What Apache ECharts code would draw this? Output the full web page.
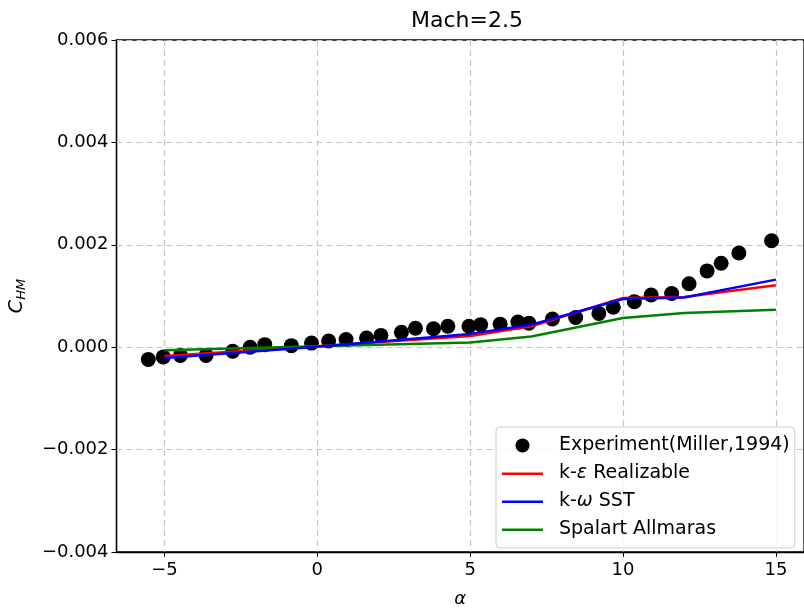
<!DOCTYPE html>
<html>
<head>
<meta charset="utf-8">
<script src="https://cdn.jsdelivr.net/npm/echarts@6/dist/echarts.min.js"></script>
<style>
  html, body { margin: 0; padding: 0; background: #fff; }
  #chart { width: 804px; height: 613px; }
</style>
</head>
<body>
<div id="chart"></div>
<script>
// experiment (Miller, 1994)
var expAlpha = [-5.53, -5.04, -4.48, -3.64, -2.77, -2.2, -1.72, -0.85, -0.19, 0.37, 0.94, 1.61, 2.08, 2.75, 3.21, 3.8, 4.27,
                4.96, 5.34, 5.98, 6.56, 6.92, 7.69, 8.45, 9.21, 9.68, 10.37, 10.92, 11.59, 12.16, 12.75, 13.21, 13.79, 14.86];
var expChm = [-0.00024, -0.00019, -0.00016, -0.00016, -0.00008, 0.0, 0.00005, 0.00003, 0.00008, 0.00012, 0.00015, 0.00018, 0.00023, 0.00029, 0.00037, 0.00036, 0.00041,
              0.00041, 0.00044, 0.00045, 0.00049, 0.00047, 0.00055, 0.00058, 0.00066, 0.00078, 0.00089, 0.00102, 0.00105, 0.00124, 0.00149, 0.00164, 0.00184, 0.00208];

// CFD results
var cfdAlpha = [-5, 0, 5, 7, 10, 12, 15];
var keReal = [-0.00017, 0.00002, 0.00022, 0.00041, 0.00096, 0.00098, 0.00121];
var kwSST = [-0.00021, 0.00001, 0.00026, 0.00044, 0.00094, 0.00097, 0.00132];
var spalart = [-0.00006, 0.00002, 0.00009, 0.00021, 0.00057, 0.00067, 0.00073];

var xTicks = [-5, 0, 5, 10, 15];

function pairs(xs, ys) {
    return xs.map(function (x, i) { return [x, ys[i]]; });
}
function minus(v) {
    return String(v).replace('-', '\u2212');
}

var font = 'DejaVu Sans';
// short horizontal line for legend entries of the model curves
var lineIcon = 'path://M0,0 M0,14 M0,6 L41,6 L41,8.5 L0,8.5 Z';
var gridLine = { show: true, lineStyle: { color: '#c4c4c4', type: [6, 4], width: 1.2 } };

var myChart = echarts.init(document.getElementById('chart'));
var option = {
    animation: false,
    backgroundColor: '#fff',
    title: {
        text: 'Mach=2.5',
        left: 462, top: 5, textAlign: 'center',
        textStyle: { fontFamily: font, fontSize: 22, fontWeight: 'normal', color: '#000' }
    },
    grid: {
        left: 116, top: 40, right: -4, bottom: 55,
        show: true, borderColor: '#000', borderWidth: 1.3, backgroundColor: 'transparent'
    },
    legend: {
        orient: 'vertical',
        left: 496, top: 427,
        itemWidth: 41, itemHeight: 14, itemGap: 9,
        padding: [9, 5, 9, 6],
        backgroundColor: 'rgba(255,255,255,0.85)',
        borderColor: '#cccccc', borderWidth: 1, borderRadius: 4,
        textStyle: {
            fontFamily: font, fontSize: 19, lineHeight: 19, color: '#000', padding: [0, 0, 0, 11],
            rich: {
                n: { fontFamily: font, fontSize: 19, lineHeight: 19, color: '#000' },
                g: { fontFamily: font, fontSize: 19, lineHeight: 19, fontStyle: 'italic', color: '#000' }
            }
        },
        formatter: function (name) {
            var m = name.match(/^(k-)([εω])(.*)$/);
            if (m) return '{n|' + m[1] + '}{g|' + m[2] + '}{n|' + m[3] + '}';
            return name;
        },
        data: [
            { name: 'Experiment(Miller,1994)', icon: 'circle' },
            { name: 'k-ε Realizable', icon: lineIcon },
            { name: 'k-ω SST', icon: lineIcon },
            { name: 'Spalart Allmaras', icon: lineIcon }
        ]
    },
    xAxis: {
        type: 'value',
        min: -6.57, max: 15.92,
        name: 'α',
        nameLocation: 'middle', nameGap: 38,
        nameTextStyle: { fontFamily: font, fontSize: 18, fontStyle: 'italic', color: '#000' },
        axisLine: { show: true, onZero: false, lineStyle: { color: '#000', width: 1.3 } },
        axisTick: { show: true, length: 5, lineStyle: { color: '#000' }, customValues: xTicks },
        axisLabel: {
            fontFamily: font, fontSize: 18, color: '#000', margin: 9,
            customValues: xTicks,
            formatter: function (v) { return minus(v); }
        },
        splitLine: gridLine
    },
    yAxis: {
        type: 'value',
        min: -0.004, max: 0.006, interval: 0.002,
        name: '{i|C}{s|HM}',
        nameLocation: 'middle', nameGap: 88, nameRotate: 90,
        nameTextStyle: {
            color: '#000',
            rich: {
                i: { fontFamily: font, fontSize: 19, fontStyle: 'italic', color: '#000' },
                s: { fontFamily: font, fontSize: 13, fontStyle: 'italic', color: '#000', padding: [9, 0, 0, 0] }
            }
        },
        axisLine: { show: true, onZero: false, lineStyle: { color: '#000', width: 1.3 } },
        axisTick: { show: true, length: 5, lineStyle: { color: '#000' } },
        axisLabel: {
            fontFamily: font, fontSize: 18, color: '#000', margin: 8,
            formatter: function (v) { return minus(v.toFixed(3)); }
        },
        splitLine: gridLine
    },
    series: [
        {
            name: 'k-ε Realizable', type: 'line', symbol: 'none', z: 3,
            lineStyle: { color: '#ff0000', width: 2.5 }, itemStyle: { color: '#ff0000' },
            data: pairs(cfdAlpha, keReal)
        },
        {
            name: 'k-ω SST', type: 'line', symbol: 'none', z: 4,
            lineStyle: { color: '#0000ff', width: 2.5 }, itemStyle: { color: '#0000ff' },
            data: pairs(cfdAlpha, kwSST)
        },
        {
            name: 'Spalart Allmaras', type: 'line', symbol: 'none', z: 3,
            lineStyle: { color: '#008000', width: 2.5 }, itemStyle: { color: '#008000' },
            data: pairs(cfdAlpha, spalart)
        },
        {
            name: 'Experiment(Miller,1994)', type: 'scatter', symbol: 'circle', symbolSize: 15, z: 2,
            itemStyle: { color: '#000', opacity: 1 },
            data: pairs(expAlpha, expChm)
        }
    ]
};
myChart.setOption(option);
</script>
</body>
</html>
